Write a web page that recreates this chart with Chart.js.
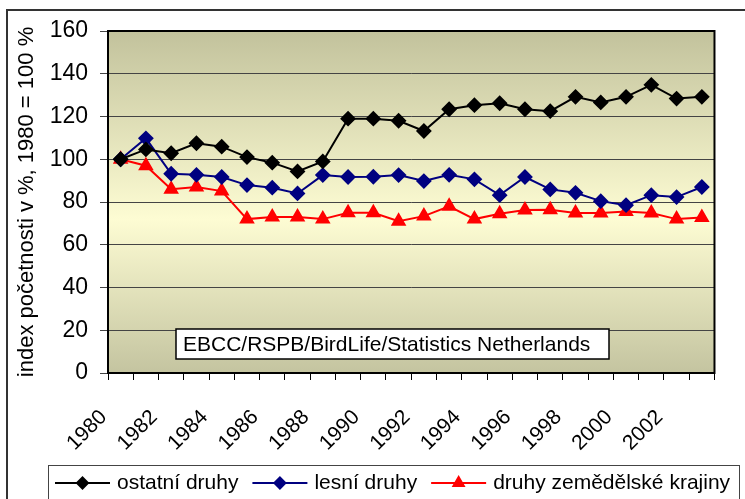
<!DOCTYPE html>
<html>
<head>
<meta charset="utf-8">
<script src="https://cdn.jsdelivr.net/npm/chart.js@4"></script>
<style>
  body { margin: 0; background: #fff; }
  canvas { display: block; }
</style>
</head>
<body>
<canvas id="birdChart" width="745" height="499"></canvas>
<script>
const years = ['1980','1981','1982','1983','1984','1985','1986','1987','1988','1989','1990','1991',
  '1992','1993','1994','1995','1996','1997','1998','1999','2000','2001','2002','2003'];

const ostatni = [100, 104.6, 102.8, 107.5, 105.9, 101, 98.4, 94.3, 99, 119, 119, 118,
  113.2, 123.4, 125.3, 126.2, 123.4, 122.5, 129.2, 126.6, 129.2, 134.8, 128.4, 129.2];
const lesni = [100, 109.8, 93.2, 92.7, 91.7, 87.9, 86.7, 84, 92.6, 91.7, 91.8, 92.6,
  89.8, 92.7, 90.6, 83.2, 91.7, 85.9, 84.3, 80.4, 78.5, 83.2, 82.3, 87];
const zemedelske = [100, 97, 86, 87, 85.1, 72, 73, 73, 72, 75, 75, 71,
  73.4, 78, 72, 74.5, 76.2, 76.4, 74.8, 74.8, 75.5, 74.8, 72, 72.8];

const yTicks = [0, 20, 40, 60, 80, 100, 120, 140, 160];
const sourceNote = 'EBCC/RSPB/BirdLife/Statistics Netherlands';
const FONT = '"Liberation Sans", Arial, sans-serif';

// background, borders, note box and legend
const decor = {
  id: 'decor',
  beforeDraw(chart) {
    const { ctx, chartArea: a } = chart;
    ctx.save();
    ctx.fillStyle = '#fff';
    ctx.fillRect(0, 0, chart.width, chart.height);
    ctx.strokeStyle = '#333';
    ctx.lineWidth = 2;
    ctx.strokeRect(7, 10, 900, 700);
    const g = ctx.createLinearGradient(0, a.top, 0, a.bottom);
    g.addColorStop(0, '#c2c29c');
    g.addColorStop(0.55, '#fdfcd3');
    g.addColorStop(1, '#c4c4a0');
    ctx.fillStyle = g;
    ctx.fillRect(a.left, a.top, a.right - a.left, a.bottom - a.top);
    ctx.restore();
  },
  afterDraw(chart) {
    const { ctx, chartArea: a } = chart;
    ctx.save();
    ctx.strokeStyle = '#000';
    ctx.lineWidth = 2;
    ctx.strokeRect(a.left, a.top, a.right - a.left, a.bottom - a.top);

    // source note
    ctx.fillStyle = '#fff';
    ctx.fillRect(176, 329, 433, 30);
    ctx.lineWidth = 1.5;
    ctx.strokeRect(176, 329, 433, 30);
    ctx.fillStyle = '#000';
    ctx.font = '21px ' + FONT;
    ctx.textBaseline = 'middle';
    ctx.fillText(sourceNote, 183, 345);

    // legend
    ctx.fillStyle = '#fff';
    ctx.fillRect(48, 465, 691, 60);
    ctx.strokeStyle = '#444';
    ctx.lineWidth = 1;
    ctx.strokeRect(48.5, 465.5, 691, 60);
    let x = 55;
    const y = 483;
    chart.data.datasets.forEach(ds => {
      ctx.strokeStyle = ds.borderColor;
      ctx.lineWidth = 2;
      ctx.beginPath();
      ctx.moveTo(x, y);
      ctx.lineTo(x + 55, y);
      ctx.stroke();
      ctx.fillStyle = ds.pointBackgroundColor;
      ctx.strokeStyle = ds.pointBorderColor;
      Chart.helpers.drawPoint(ctx, {
        pointStyle: ds.pointStyle, radius: ds.pointRadius - 1, borderWidth: 1
      }, x + 27.5, y);
      ctx.fillStyle = '#000';
      ctx.font = '21px ' + FONT;
      ctx.fillText(ds.label, x + 62, y);
      x += 62 + ctx.measureText(ds.label).width + 14;
    });
    ctx.restore();
  }
};

new Chart(document.getElementById('birdChart'), {
  type: 'line',
  data: {
    labels: years,
    datasets: [
      {
        label: 'ostatní druhy',
        data: ostatni,
        borderColor: '#000',
        borderWidth: 2,
        pointStyle: 'rectRot',
        pointRadius: 6.5,
        pointBackgroundColor: '#000',
        pointBorderColor: '#000',
        tension: 0
      },
      {
        label: 'lesní druhy',
        data: lesni,
        borderColor: '#000080',
        borderWidth: 2,
        pointStyle: 'rectRot',
        pointRadius: 6.5,
        pointBackgroundColor: '#000080',
        pointBorderColor: '#000080',
        tension: 0
      },
      {
        label: 'druhy zemědělské krajiny',
        data: zemedelske,
        borderColor: '#ff0000',
        borderWidth: 2,
        pointStyle: 'triangle',
        pointRadius: 7,
        pointBackgroundColor: '#ff0000',
        pointBorderColor: '#ff0000',
        tension: 0
      }
    ]
  },
  options: {
    responsive: false,
    animation: false,
    layout: { padding: { left: 0, top: 31, right: 16, bottom: 0 } },
    plugins: { legend: { display: false }, tooltip: { enabled: false } },
    scales: {
      x: {
        offset: true,
        afterFit(scale) { scale.height = 126; },
        grid: { drawOnChartArea: false, drawTicks: true, tickLength: 7, offset: true, color: '#000' },
        border: { display: false },
        ticks: {
          autoSkip: false,
          minRotation: 45,
          maxRotation: 45,
          padding: 25,
          labelOffset: -17,
          color: '#000',
          font: { family: FONT, size: 21 },
          callback(value, i) { return i % 2 === 0 ? years[i] : ''; }
        }
      },
      y: {
        min: 0,
        max: 160,
        afterFit(scale) { scale.width = 108; },
        afterBuildTicks(scale) { scale.ticks = yTicks.map(v => ({ value: v })); },
        grid: { color: '#444', lineWidth: 1, drawTicks: true, tickLength: 8 },
        border: { display: false },
        title: {
          display: true,
          text: 'index početnosti v %, 1980 = 100 %',
          color: '#000',
          font: { family: FONT, size: 22 },
          padding: { top: 14, bottom: 0 }
        },
        ticks: {
          padding: 12,
          color: '#000',
          font: { family: FONT, size: 23 }
        }
      }
    }
  },
  plugins: [decor]
});
</script>
</body>
</html>
